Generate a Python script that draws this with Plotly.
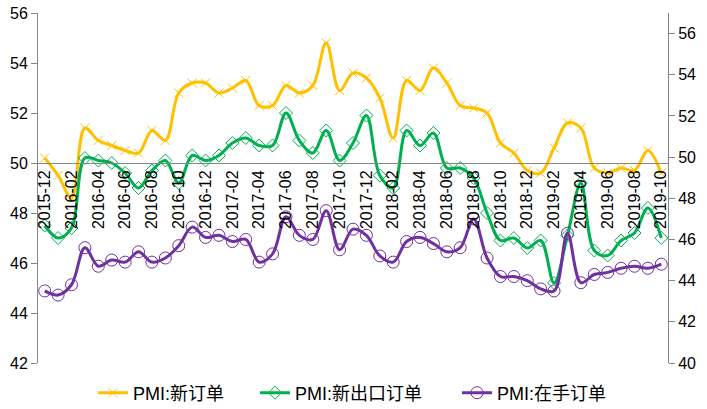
import plotly.graph_objects as go

months = ['2015-12',
          '2016-01', '2016-02', '2016-03', '2016-04', '2016-05', '2016-06',
          '2016-07', '2016-08', '2016-09', '2016-10', '2016-11', '2016-12',
          '2017-01', '2017-02', '2017-03', '2017-04', '2017-05', '2017-06',
          '2017-07', '2017-08', '2017-09', '2017-10', '2017-11', '2017-12',
          '2018-01', '2018-02', '2018-03', '2018-04', '2018-05', '2018-06',
          '2018-07', '2018-08', '2018-09', '2018-10', '2018-11', '2018-12',
          '2019-01', '2019-02', '2019-03', '2019-04', '2019-05', '2019-06',
          '2019-07', '2019-08', '2019-09', '2019-10']

# PMI:新订单 (left axis)
new_orders = [50.2,
              49.5, 48.6, 51.4, 50.9, 50.7, 50.5, 50.4, 51.3, 50.9, 52.8, 53.2, 53.2,
              52.8, 53.0, 53.3, 52.3, 52.3, 53.1, 52.8, 53.1, 54.8, 52.9, 53.6, 53.4,
              52.6, 51.0, 53.3, 52.9, 53.8, 53.2, 52.3, 52.2, 52.0, 50.8, 50.4, 49.7,
              49.6, 50.6, 51.6, 51.4, 49.8, 49.6, 49.8, 49.7, 50.5, 49.6]

# PMI:新出口订单 (left axis)
export_orders = [47.5,
                 47.0, 47.4, 50.2, 50.1, 50.0, 49.6, 49.0, 49.7, 50.1, 49.2, 50.3, 50.1,
                 50.3, 50.8, 51.0, 50.7, 50.7, 52.0, 50.9, 50.4, 51.3, 50.1, 50.8, 51.9,
                 49.5, 49.0, 51.3, 50.7, 51.2, 49.8, 49.8, 49.4, 48.0, 46.9, 47.0, 46.6,
                 46.9, 45.2, 47.1, 49.2, 46.5, 46.3, 46.9, 47.2, 48.2, 47.0]

# PMI:在手订单 (right axis)
backlog_orders = [43.5,
                  43.3, 43.8, 45.6, 44.7, 45.0, 44.9, 45.4, 44.9, 45.1, 45.7, 46.6, 46.1,
                  46.2, 45.9, 46.0, 44.9, 45.3, 47.1, 46.2, 46.0, 47.4, 45.5, 46.5, 46.2,
                  45.2, 44.9, 45.9, 46.1, 45.8, 45.4, 45.6, 47.0, 45.1, 44.2, 44.2, 44.0,
                  43.6, 43.5, 46.3, 43.9, 44.3, 44.4, 44.6, 44.7, 44.6, 44.8]

x = list(range(len(months)))
label_idx = x[::2]
tick_marks = [i - 0.5 for i in x[::3]] + [len(months) - 0.5]

font_main = 'Liberation Sans, Arial, sans-serif'
legend_font = dict(size=18, family='Liberation Sans, Noto Sans CJK SC, sans-serif', color='black')
axis_grey = '#868686'

W, H = 707, 409

fig = go.Figure()

fig.add_trace(go.Scatter(
    x=x, y=new_orders, name='PMI:新订单', mode='lines+markers', legend='legend',
    line=dict(color='#FFC000', width=3, shape='spline'),
    marker=dict(symbol='x-thin-open', size=9, color='#FFC000', line=dict(width=1, color='#FFC000')),
))
fig.add_trace(go.Scatter(
    x=x, y=export_orders, name='PMI:新出口订单', mode='lines+markers', legend='legend2',
    line=dict(color='#00B050', width=3, shape='spline'),
    marker=dict(symbol='diamond-open', size=10, color='#00B050', line=dict(width=1)),
))
fig.add_trace(go.Scatter(
    x=x, y=backlog_orders, name='PMI:在手订单', mode='lines+markers', yaxis='y2', legend='legend3',
    line=dict(color='#7030A0', width=3, shape='spline'),
    marker=dict(symbol='circle-open', size=12, color='#7030A0', line=dict(width=1)),
))

# x axis crosses the left axis at 50
cross = (50 - 42) / (56 - 42)

leg = dict(orientation='h', xanchor='left', y=1 - 393 / H, yanchor='middle',
           xref='container', yref='container',
           font=legend_font, itemwidth=30, bgcolor='rgba(0,0,0,0)')

fig.update_layout(
    width=W, height=H,
    margin=dict(l=38, r=39, t=13, b=46),
    paper_bgcolor='white', plot_bgcolor='white',
    font=dict(family=font_main, color='black'),
    showlegend=True,
    legend=dict(leg, x=93 / W),
    legend2=dict(leg, x=255 / W),
    legend3=dict(leg, x=457 / W),
    xaxis=dict(range=[-0.5, len(months) - 0.5], anchor='free', position=cross,
               tickmode='array', tickvals=label_idx, ticktext=months[::2],
               tickangle=-90, ticks='', showline=True, linecolor=axis_grey, linewidth=1,
               showgrid=False, zeroline=False, tickfont=dict(size=16), automargin=False),
    xaxis2=dict(range=[-0.5, len(months) - 0.5], overlaying='x', anchor='free', position=cross,
                tickmode='array', tickvals=tick_marks, ticks='outside', ticklen=5,
                tickcolor=axis_grey, showticklabels=False, showline=False,
                showgrid=False, zeroline=False, automargin=False),
    yaxis=dict(range=[42, 56], dtick=2, ticks='outside', ticklen=6, tickcolor=axis_grey,
               showline=True, linecolor=axis_grey, showgrid=False, zeroline=False,
               tickfont=dict(size=16), automargin=False),
    yaxis2=dict(range=[40, 57], tickmode='array', tickvals=list(range(40, 57, 2)),
                overlaying='y', side='right', ticks='outside', ticklen=6, tickcolor=axis_grey,
                showline=True, linecolor=axis_grey, showgrid=False, zeroline=False,
                tickfont=dict(size=16), automargin=False),
)

# drop the default 8px body margin so the figure fills the window
fig.write_html('out.html', config={'displayModeBar': False},
               post_script="document.body.style.margin='0';")
